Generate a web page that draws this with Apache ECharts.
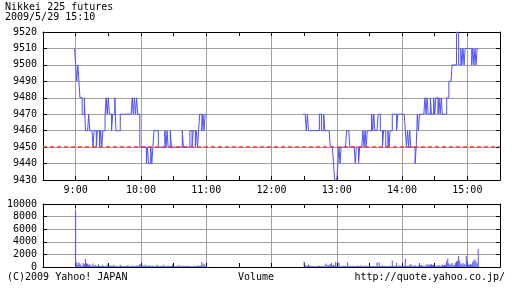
<!DOCTYPE html>
<html><head><meta charset="utf-8">
<script src="https://cdn.jsdelivr.net/npm/echarts@6/dist/echarts.min.js"></script>
<style>html,body{margin:0;padding:0;background:#fff}#c{width:512px;height:288px}</style>
</head><body><div id="c"></div>
<script>
const titleText = 'Nikkei 225 futures';
const dateText = '2009/5/29 15:10';
const footerLeft = '(C)2009 Yahoo! JAPAN';
const footerMid = 'Volume';
const footerRight = 'http://quote.yahoo.co.jp/';
const hourLabels = ['9:00','10:00','11:00','12:00','13:00','14:00','15:00'];
const priceTicks = [9430,9440,9450,9460,9470,9480,9490,9500,9510,9520];
const volumeTicks = [0,2000,4000,6000,8000,10000];
const prevClose = 9450;
const morningStart = '9:00';
const morningPrices = [
9510,9500,9490,9500,9490,9480,9480,9470,9470,9480,
9460,9460,9460,9470,9460,9460,9460,9450,9460,9460,
9450,9460,9460,9450,9460,9450,9460,9460,9470,9480,
9470,9480,9470,9470,9460,9470,9470,9480,9460,9460,
9460,9460,9470,9470,9470,9470,9470,9470,9470,9470,
9470,9470,9470,9480,9470,9480,9470,9480,9470,9470,
9450,9450,9450,9450,9450,9450,9440,9450,9440,9440,
9450,9440,9450,9460,9460,9460,9460,9450,9450,9450,
9450,9450,9450,9460,9450,9460,9450,9450,9460,9450,
9450,9450,9450,9450,9450,9450,9450,9450,9450,9460,
9450,9450,9450,9450,9450,9450,9460,9460,9450,9460,
9460,9450,9460,9450,9460,9470,9470,9460,9470,9460,
9470];
const afternoonStart = '12:30';
const afternoonPrices = [
9470,9470,9470,9460,9470,9460,9460,9460,9460,9460,
9460,9460,9460,9460,9460,9470,9470,9460,9460,9470,
9460,9460,9460,9460,9460,9450,9450,9450,9440,9430,
9430,9430,9440,9450,9440,9450,9450,9450,9450,9450,
9460,9460,9460,9450,9450,9450,9450,9450,9440,9450,
9450,9440,9450,9450,9450,9460,9450,9460,9450,9460,
9460,9460,9460,9470,9460,9470,9460,9460,9460,9470,
9470,9460,9460,9450,9460,9460,9450,9450,9460,9450,
9460,9460,9470,9470,9470,9470,9460,9470,9470,9470,
9470,9470,9470,9470,9460,9450,9460,9450,9460,9450,
9450,9450,9450,9440,9450,9470,9460,9470,9470,9470,
9470,9470,9480,9470,9480,9470,9470,9480,9470,9470,
9480,9470,9480,9480,9470,9480,9470,9480,9470,9470,
9470,9470,9480,9480,9490,9490,9490,9500,9500,9500,
9500,9520,9520,9500,9500,9510,9500,9510,9500,9510,
9510,9510,9510,9510,9510,9500,9510,9500,9510,9500,
9510];
const morningVolume = [
8900,750,300,700,550,250,200,650,450,1250,
600,500,300,450,250,200,550,150,300,200,
150,450,200,100,150,350,200,100,150,400,
150,100,250,100,150,350,100,150,200,100,
100,350,150,100,100,150,200,100,300,150,
100,100,250,150,100,100,200,150,300,450,
400,350,250,150,350,200,100,150,300,100,
150,250,100,100,200,350,150,100,100,200,
100,350,150,100,150,250,150,100,150,350,
200,150,100,200,100,300,150,100,200,150,
100,150,100,200,150,100,150,100,150,200,
100,100,150,200,150,250,800,350,500,250,
300];
const afternoonVolume = [
850,300,100,150,400,250,100,150,200,100,
100,150,100,250,150,100,100,150,100,200,
550,300,200,300,450,650,150,300,250,850,
200,250,700,100,150,100,200,100,150,100,
750,100,150,200,100,250,100,150,100,200,
150,100,250,100,200,150,100,250,100,150,
250,150,100,150,100,150,100,700,150,700,
100,150,250,100,150,200,100,150,100,250,
150,1050,200,100,150,650,100,200,300,150,
150,250,150,1300,200,150,100,300,500,200,
250,150,300,150,100,200,650,250,300,150,
200,150,250,500,300,350,400,450,300,350,
250,200,150,250,300,200,150,400,250,300,
400,950,1350,600,450,350,650,250,300,650,
850,1050,1750,1000,500,350,650,450,400,1800,
1000,400,300,500,400,850,1050,1250,850,600,
2850];

const categories = [];
for (let t = 8*60+30; t <= 15*60+30; t++) categories.push(Math.floor(t/60)+':'+String(t%60).padStart(2,'0'));
function placeInto(arr, startLabel, target){ const i0 = categories.indexOf(startLabel); arr.forEach((v,k)=>{ target[i0+k]=v; }); }
const priceData = new Array(categories.length).fill(null);
placeInto(morningPrices, morningStart, priceData);
placeInto(afternoonPrices, afternoonStart, priceData);
const volumeData = new Array(categories.length).fill(null);
placeInto(morningVolume, morningStart, volumeData);
placeInto(afternoonVolume, afternoonStart, volumeData);

const FONT = 'DejaVu Sans Mono';
const BLUE = '#4f4fff';
const GRIDC = '#a0a0a0';
const isHour = (i, v) => hourLabels.indexOf(v) >= 0;
const isHalf = (i, v) => /:(00|30)$/.test(v);

function xAx(gi, pos, labels, split){
  return { type:'category', gridIndex:gi, data:categories, boundaryGap:false, position:pos,
    axisLine:{show:true, onZero:false, lineStyle:{color:'#000', width:1}},
    axisTick:{show:true, inside:true, length:4, interval:isHalf, lineStyle:{color:'#000'}},
    axisLabel:{show:labels, interval:isHour, color:'#000', fontFamily:FONT, fontSize:10, margin:5},
    splitLine:{show:split, interval:isHour, lineStyle:{color:GRIDC, width:1}} };
}
function yAx(gi, pos, labels, split, ticks){
  return { type:'value', gridIndex:gi, position:pos, min:ticks[0], max:ticks[ticks.length-1],
    interval:ticks[1]-ticks[0],
    axisLine:{show:true, lineStyle:{color:'#000'}},
    axisTick:{show:true, inside:true, length:4, lineStyle:{color:'#000'}},
    axisLabel:{show:labels, color:'#000', fontFamily:FONT, fontSize:10, margin:6, formatter:(v)=>String(v)},
    splitLine:{show:split, lineStyle:{color:GRIDC, width:1}} };
}

const chart = echarts.init(document.getElementById('c'), null, {renderer:'canvas'});
chart.setOption({
  animation:false,
  backgroundColor:'#fff',
  grid:[
    {left:43, right:12, top:32, height:148, show:false},
    {left:43, right:12, top:204, height:63, show:false}
  ],
  xAxis:[ xAx(0,'bottom',true,true), xAx(0,'top',false,false), xAx(1,'bottom',false,true), xAx(1,'top',false,false) ],
  yAxis:[ yAx(0,'left',true,true,priceTicks), yAx(0,'right',false,false,priceTicks),
          yAx(1,'left',true,true,volumeTicks), yAx(1,'right',false,false,volumeTicks) ],
  series:[
    { type:'line', xAxisIndex:0, yAxisIndex:0, data:[], z:3, silent:true,
      markLine:{ silent:true, symbol:['none','none'], label:{show:false},
        emphasis:{disabled:true},
        lineStyle:{color:'#ff3030', type:[4,3], width:1.6, opacity:1}, data:[{yAxis:prevClose}] } },
    { type:'line', xAxisIndex:0, yAxisIndex:0, data:priceData, step:'start', showSymbol:false,
      z:4, lineStyle:{color:BLUE, width:1}, connectNulls:false },
    { type:'bar', xAxisIndex:2, yAxisIndex:2, data:volumeData, barWidth:1, itemStyle:{color:BLUE}, z:3 }
  ],
  graphic:[
    {type:'text', left:5, top:2, style:{text:titleText, font:'10px "'+FONT+'"', fill:'#000'}},
    {type:'text', left:5, top:12, style:{text:dateText, font:'10px "'+FONT+'"', fill:'#000'}},
    {type:'text', left:7, top:272, style:{text:footerLeft, font:'10px "'+FONT+'"', fill:'#000'}},
    {type:'text', left:238, top:272, style:{text:footerMid, font:'10px "'+FONT+'"', fill:'#000'}},
    {type:'text', right:7, top:272, style:{text:footerRight, font:'10px "'+FONT+'"', fill:'#000'}}
  ]
});
</script></body></html>
